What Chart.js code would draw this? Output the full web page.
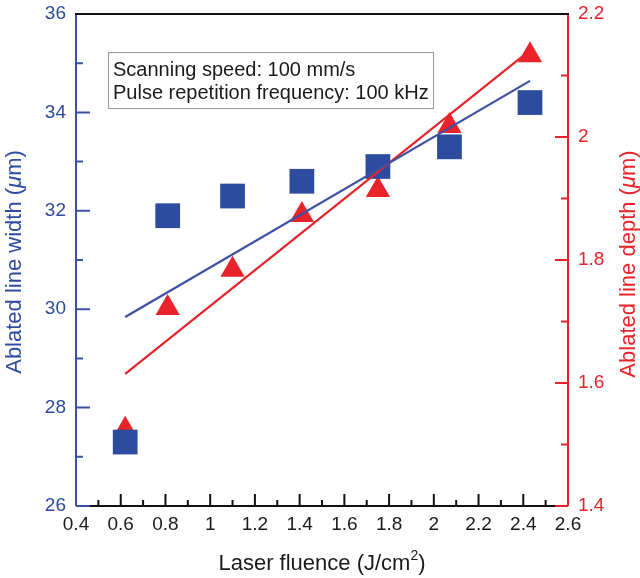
<!DOCTYPE html>
<html>
<head>
<meta charset="utf-8">
<script src="https://cdn.jsdelivr.net/npm/chart.js@4"></script>
<style>
	body { margin: 0; background: #fff; }
	#wrap { width: 640px; height: 578px; }
</style>
</head>
<body>
<div id="wrap"><canvas id="line-chart" width="640" height="578"></canvas></div>
<script>
// data
var fluence = [0.62, 0.81, 1.1, 1.41, 1.75, 2.07, 2.43];
var lineWidth = [27.3, 31.9, 32.3, 32.6, 32.9, 33.3, 34.2];
var lineDepth = [1.524, 1.722, 1.784, 1.873, 1.914, 2.018, 2.133];
// linear fits (end points)
var fitX = [0.62, 2.43];
var fitWidth = [29.84, 34.64];
var fitDepth = [1.615, 2.141];

var xTicks = [0.4, 0.6, 0.8, 1, 1.2, 1.4, 1.6, 1.8, 2, 2.2, 2.4, 2.6];
var widthTicks = [26, 28, 30, 32, 34, 36];
var depthTicks = [1.4, 1.6, 1.8, 2, 2.2];

var BLUE = '#2e4c9f';
var BLUE_LINE = '#3d4fa3';
var RED = '#e8232a';
var TXT = '#1a1a1a';
var FONT = 'Liberation Sans, Arial, sans-serif';

function pts(xs, ys){
	return xs.map(function(x, i){ return {x: x, y: ys[i]}; });
}

function fmt(v){
	return String(Number(v.toFixed(2)));
}

// draws a text made of parts [text, font, dy] centred on (cx, cy), rotated
function drawParts(ctx, parts, cx, cy, rot, color){
	ctx.save();
	ctx.translate(cx, cy);
	ctx.rotate(rot);
	ctx.fillStyle = color;
	ctx.textBaseline = 'middle';
	var total = 0;
	parts.forEach(function(p){ ctx.font = p[1]; total += ctx.measureText(p[0]).width; });
	var x = -total / 2;
	parts.forEach(function(p){
		ctx.font = p[1];
		ctx.fillText(p[0], x, p[2] || 0);
		x += ctx.measureText(p[0]).width;
	});
	ctx.restore();
}

// axis lines, inward ticks (major + minor), titles, info box
var framePlugin = {
	id: 'frame',
	afterDatasetsDraw: function(chart){
		var ctx = chart.ctx;
		var a = chart.chartArea;
		var sx = chart.scales.x, sl = chart.scales.yW, sr = chart.scales.yD;
		var MAJ = 12, MIN = 6;
		ctx.save();
		ctx.lineWidth = 2;

		// bottom axis + ticks
		ctx.strokeStyle = '#111';
		ctx.beginPath();
		ctx.moveTo(a.left, a.bottom); ctx.lineTo(a.right, a.bottom);
		for (var i = 0; i < xTicks.length - 1; i++){
			var p = sx.getPixelForValue(xTicks[i]);
			if (i > 0){ ctx.moveTo(p, a.bottom); ctx.lineTo(p, a.bottom - MAJ); }
			var m = sx.getPixelForValue(xTicks[i] + 0.1);
			ctx.moveTo(m, a.bottom); ctx.lineTo(m, a.bottom - MIN);
		}
		ctx.stroke();

		// left axis (blue)
		ctx.strokeStyle = BLUE_LINE;
		ctx.beginPath();
		ctx.moveTo(a.left, a.top); ctx.lineTo(a.left, a.bottom);
		for (var j = 0; j < widthTicks.length; j++){
			var y = sl.getPixelForValue(widthTicks[j]);
			ctx.moveTo(a.left, y); ctx.lineTo(a.left + MAJ + 2, y);
			if (j < widthTicks.length - 1){
				var ym = sl.getPixelForValue(widthTicks[j] + 1);
				ctx.moveTo(a.left, ym); ctx.lineTo(a.left + MIN + 1, ym);
			}
		}
		ctx.stroke();

		// right axis (red)
		ctx.strokeStyle = RED;
		ctx.beginPath();
		ctx.moveTo(a.right, a.top); ctx.lineTo(a.right, a.bottom);
		for (var k = 0; k < depthTicks.length; k++){
			var yr = sr.getPixelForValue(depthTicks[k]);
			ctx.moveTo(a.right, yr); ctx.lineTo(a.right - MAJ - 1, yr);
			if (k < depthTicks.length - 1){
				var yrm = sr.getPixelForValue(depthTicks[k] + 0.1);
				ctx.moveTo(a.right, yrm); ctx.lineTo(a.right - MIN - 1, yrm);
			}
		}
		ctx.stroke();

		// top border
		ctx.strokeStyle = '#111';
		ctx.beginPath();
		ctx.moveTo(a.left - 1, a.top); ctx.lineTo(a.right + 1, a.top);
		ctx.stroke();

		// axis titles
		var f = '22px ' + FONT, fi = 'italic 22px ' + FONT;
		drawParts(ctx, [['Ablated line width (', f], ['μ', fi], ['m)', f]], 15, 262, -Math.PI / 2, BLUE);
		drawParts(ctx, [['Ablated line depth (', f], ['μ', fi], ['m)', f]], 629, 264, -Math.PI / 2, RED);
		drawParts(ctx, [['Laser fluence (J/cm', f], ['2', '14px ' + FONT, -8], [')', f]], 322, 564, 0, TXT);

		// info box
		ctx.fillStyle = '#fff';
		ctx.fillRect(108, 52, 325, 56);
		ctx.lineWidth = 1;
		ctx.strokeStyle = '#9a9a9a';
		ctx.strokeRect(108.5, 52.5, 325, 56);
		ctx.fillStyle = TXT;
		ctx.font = '20px ' + FONT;
		ctx.textBaseline = 'middle';
		ctx.fillText('Scanning speed: 100 mm/s', 113, 70);
		ctx.fillText('Pulse repetition frequency: 100 kHz', 113, 93);
		ctx.restore();
	}
};

function noPadY(s){ s.paddingTop = 0; s.paddingBottom = 0; }

new Chart(document.getElementById('line-chart'), {
	type: 'scatter',
	data: {
		datasets: [
			{
				label: 'width fit',
				type: 'line',
				data: pts(fitX, fitWidth),
				yAxisID: 'yW',
				borderColor: BLUE_LINE,
				borderWidth: 2.2,
				pointRadius: 0,
				fill: false
			},
			{
				label: 'depth fit',
				type: 'line',
				data: pts(fitX, fitDepth),
				yAxisID: 'yD',
				borderColor: RED,
				borderWidth: 2.2,
				pointRadius: 0,
				fill: false
			},
			{
				label: 'Ablated line width',
				data: pts(fluence, lineWidth),
				yAxisID: 'yW',
				pointStyle: 'rect',
				pointRadius: 17.5,
				backgroundColor: BLUE,
				borderColor: BLUE,
				borderWidth: 0
			},
			{
				label: 'Ablated line depth',
				data: pts(fluence, lineDepth),
				yAxisID: 'yD',
				pointStyle: 'triangle',
				pointRadius: 14,
				backgroundColor: RED,
				borderColor: RED,
				borderWidth: 0
			}
		]
	},
	options: {
		responsive: false,
		animation: false,
		layout: { autoPadding: false, padding: { top: 14, left: 0, right: 0, bottom: 0 } },
		plugins: {
			legend: { display: false },
			tooltip: { enabled: false }
		},
		scales: {
			x: {
				type: 'linear',
				min: 0.4, max: 2.6,
				afterBuildTicks: function(s){ s.ticks = xTicks.map(function(v){ return {value: v}; }); },
				afterFit: function(s){ s.height = 72; s.paddingLeft = 0; s.paddingRight = 0; },
				grid: { display: false, drawTicks: false },
				border: { display: false },
				ticks: {
					color: TXT, padding: 7, maxRotation: 0,
					font: { family: FONT, size: 19 },
					callback: fmt
				}
			},
			yW: {
				type: 'linear', position: 'left',
				min: 26, max: 36,
				afterBuildTicks: function(s){ s.ticks = widthTicks.map(function(v){ return {value: v}; }); },
				afterFit: function(s){ s.width = 76; noPadY(s); },
				grid: { display: false, drawTicks: false },
				border: { display: false },
				ticks: {
					color: BLUE, padding: 10,
					font: { family: FONT, size: 19 },
					callback: fmt
				}
			},
			yD: {
				type: 'linear', position: 'right',
				min: 1.4, max: 2.2,
				afterBuildTicks: function(s){ s.ticks = depthTicks.map(function(v){ return {value: v}; }); },
				afterFit: function(s){ s.width = 72; noPadY(s); },
				grid: { display: false, drawTicks: false },
				border: { display: false },
				ticks: {
					color: RED, padding: 10,
					font: { family: FONT, size: 19 },
					callback: fmt
				}
			}
		}
	},
	plugins: [framePlugin]
});
</script>
</body>
</html>
